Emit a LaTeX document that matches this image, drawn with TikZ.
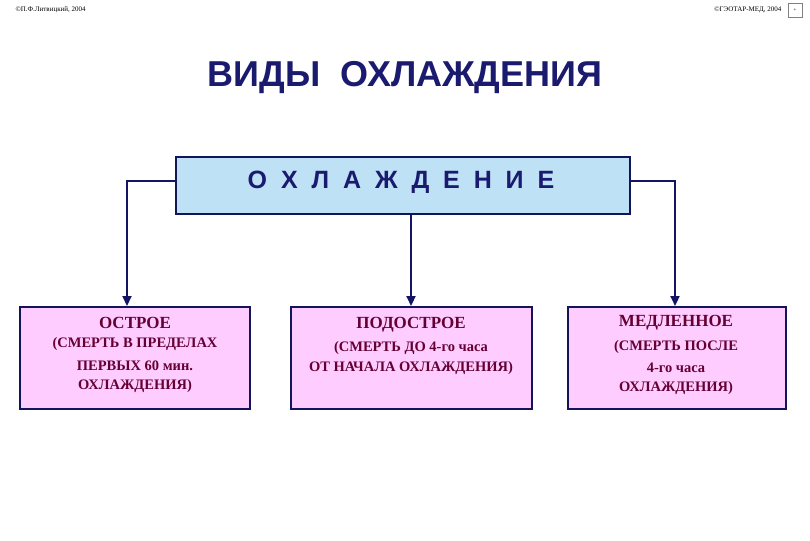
\documentclass[tikz,border=0pt]{standalone}
\usepackage{fontspec}
\setmainfont{Liberation Serif}
\newfontfamily\hsans{Liberation Sans}
\usetikzlibrary{arrows.meta}
\begin{document}
\begin{tikzpicture}[x=1pt,y=-1pt,
  conn/.style={draw={rgb,255:red,20;green,20;blue,100},line width=2.2pt,-{Triangle[length=10pt,width=9pt]}},
  lowbox/.style={draw={rgb,255:red,20;green,20;blue,90},line width=1.5pt,fill={rgb,255:red,255;green,204;blue,255},minimum height=102pt,anchor=north west,inner sep=0pt},
  hd/.style={text={rgb,255:red,100;green,0;blue,50},font=\bfseries\fontsize{17}{18}\selectfont,inner sep=0pt},
  ln/.style={text={rgb,255:red,100;green,0;blue,50},font=\bfseries\fontsize{14.5}{16}\selectfont,inner sep=0pt}]
\useasboundingbox (0,0) rectangle (810,540);
\definecolor{ttl}{RGB}{26,26,110}
\node[font=\fontsize{7}{8}\selectfont,anchor=west] (cl) at (12,10) {©П.Ф.Литвицкий, 2004};
\node[font=\fontsize{7}{8}\selectfont,anchor=east] (cr) at (785,10) {©ГЭОТАР-МЕД, 2004};
\node[draw=gray,minimum size=14pt,inner sep=0pt,font=\tiny] (logo) at (795,10) {+};
\node[font=\hsans\bfseries\fontsize{36}{40}\selectfont,text=ttl] (title) at (405,78) {ВИДЫ\ \ ОХЛАЖДЕНИЯ};
\node[draw={rgb,255:red,20;green,20;blue,90},line width=2pt,fill={rgb,255:red,190;green,225;blue,245},minimum width=454pt,minimum height=57pt,anchor=north west,inner sep=0pt] (top) at (175,156) {};
\node[font=\hsans\bfseries\fontsize{25}{28}\selectfont,text=ttl] (toptxt) at (401,182) {О\ \ Х\ \ Л\ \ А\ \ Ж\ \ Д\ \ Е\ \ Н\ \ И\ \ Е};
\node[lowbox,minimum width=230pt] (b1) at (19,306) {};
\node[lowbox,minimum width=241pt] (b2) at (290,306) {};
\node[lowbox,minimum width=218pt] (b3) at (567,306) {};
\node[hd] (a1) at (135,323) {ОСТРОЕ};
\node[ln] (a2) at (135,344) {(СМЕРТЬ В ПРЕДЕЛАХ};
\node[ln] (a3) at (135,366) {ПЕРВЫХ 60 мин.};
\node[ln] (a4) at (135,386) {ОХЛАЖДЕНИЯ)};
\node[hd] (m1) at (411,325) {ПОДОСТРОЕ};
\node[ln] (m2) at (411,348) {(СМЕРТЬ ДО 4-го часа};
\node[ln] (m3) at (411,368) {ОТ НАЧАЛА ОХЛАЖДЕНИЯ)};
\node[hd] (r1) at (676,323) {МЕДЛЕННОЕ};
\node[ln] (r2) at (676,347) {(СМЕРТЬ ПОСЛЕ};
\node[ln] (r3) at (676,368) {4-го часа};
\node[ln] (r4) at (676,388) {ОХЛАЖДЕНИЯ)};
\draw[conn] (top.west |- 0,181) -- (127,181) -- (b1.north -| 127,0);
\draw[conn] (top.south -| 411,0) -- (b2.north -| 411,0);
\draw[conn] (top.east |- 0,181) -- (675,181) -- (b3.north -| 675,0);
\end{tikzpicture}
\end{document}
